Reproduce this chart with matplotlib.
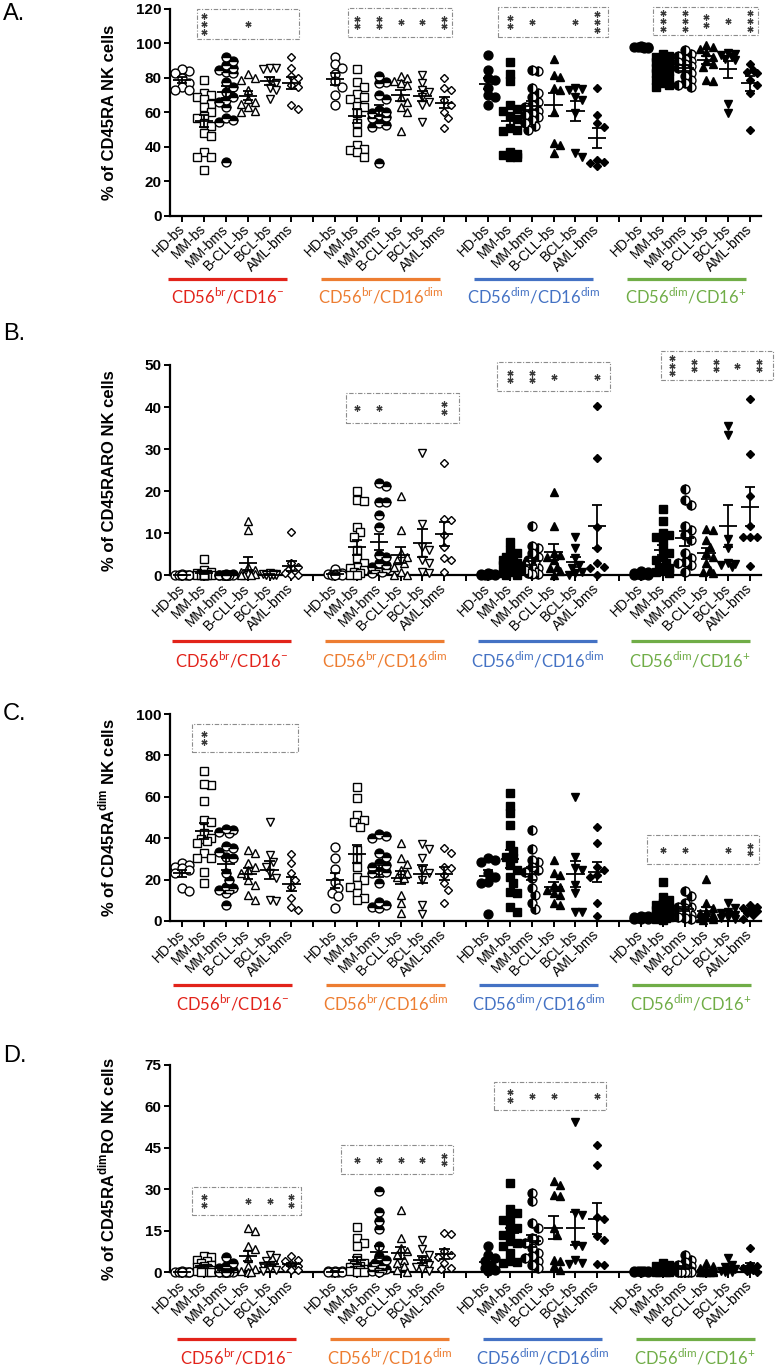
import numpy as np
import matplotlib
matplotlib.use('Agg')
import matplotlib.pyplot as plt
from matplotlib.transforms import blended_transform_factory
from matplotlib.patches import Rectangle

plt.rcParams['font.family'] = ['Liberation Sans', 'DejaVu Sans']

# categories and cell subsets
categories = ['HD-bs', 'MM-bs', 'MM-bms', 'B-CLL-bs', 'BCL-bs', 'AML-bms']
subsets = [r'CD56$^{\mathregular{br}}$/CD16$^{\mathregular{-}}$',
           r'CD56$^{\mathregular{br}}$/CD16$^{\mathregular{dim}}$',
           r'CD56$^{\mathregular{dim}}$/CD16$^{\mathregular{dim}}$',
           r'CD56$^{\mathregular{dim}}$/CD16$^{\mathregular{+}}$']
subset_colors = ['#E2231A', '#ED7D31', '#4472C4', '#70AD47']

# ---------------- panel A: % CD45RA ----------------
a_br_neg = [[84, 85, 83, 80, 77, 75, 73, 73],
            [79, 71, 70, 69, 68, 65, 63, 60, 58, 57, 54, 52, 48, 46, 37, 34, 34, 26.5],
            [92, 90, 87.5, 85.5, 84.5, 83.6, 82.6, 77.8, 75, 72, 69, 67, 66, 63, 56.5, 55.5, 54.5, 31],
            [82, 80, 79, 73, 68, 66, 65, 63, 61, 60],
            [86, 86, 85, 78, 77, 74, 73, 68],
            [92, 86, 81, 80, 76, 75, 64, 62]]
a_br_dim = [[92, 88, 86, 82, 78, 75, 70, 64],
            [85, 77.8, 75, 70.4, 69, 68, 63.7, 63.3, 59.4, 53.6, 48.8, 41, 39, 38, 37, 34.3],
            [81, 77.8, 77, 70, 68, 61.3, 60.4, 59.4, 58.4, 57.5, 56.5, 53.6, 52.6, 51.7, 30.4],
            [81, 80, 78, 77, 76, 69, 66, 63, 60, 49],
            [81.7, 77, 73, 72, 69, 66, 64, 54.6],
            [80, 74, 73, 67, 64, 60.4, 56.5, 50.7]]
a_dim_dim = [[93.3, 84.6, 79.7, 78.8, 74, 70, 69, 64.3],
             [89, 82, 78, 64, 62, 61, 58, 56, 51, 50, 49, 37, 36, 35, 34, 34],
             [84.6, 84, 74, 71, 69, 66, 64, 63, 61, 59.4, 58.4, 57.5, 55.5, 53.6, 52, 50],
             [90.8, 81.7, 80.3, 74, 73, 60.4, 42, 41, 36.2],
             [74, 73.4, 73, 69, 67, 59.4, 36.2, 34.3],
             [74, 58.4, 53.6, 51.7, 32.3, 31.4, 30.4, 29]]
a_dim_pos = [[98, 98, 97.5, 98.3, 97.8, 98.2, 97.6, 98],
             [94, 93, 92, 91, 90, 89, 88, 87, 86, 85, 84, 83, 82, 80, 79, 77, 76, 75],
             [96, 94, 93, 91, 90, 89, 88, 87, 86, 85, 83, 81, 79, 77, 76, 75],
             [99, 98, 97, 95, 92, 90, 88, 86.5, 78.8, 78],
             [94.6, 93.9, 93.3, 92.3, 91, 90.3, 65, 59.4],
             [88, 84.6, 83.6, 82.6, 78.8, 75.9, 71, 49.7]]

# ---------------- panel B: % CD45RARO ----------------
b_br_neg = [[0, 0, 0, 0, 0.2, 0.1, 0, 0],
            [3.9, 1.2, 0.8, 0.5, 0.3, 0.2, 0.1, 0, 0, 0, 0, 0, 0, 0, 0, 0],
            [0.3, 0.2, 0.1, 0.1, 0.1, 0, 0, 0, 0, 0, 0, 0, 0, 0, 0, 0],
            [13, 10.8, 2, 1.3, 0.8, 0.5, 0.3, 0.1, 0, 0],
            [0.5, 0.3, 0.2, 0.2, 0.1, 0, 0, 0],
            [10.2, 2.9, 2, 1.3, 0.9, 0.5, 0.1, 0]]
b_br_dim = [[1.5, 0.5, 0.3, 0.3, 0.2, 0.1, 0, 0],
            [20.1, 17.9, 17.7, 11.6, 10.2, 9.2, 6, 4, 2.9, 2, 1.7, 1.3, 0.9, 0.5, 0.1, 0],
            [21.9, 21.3, 17.4, 17.4, 14.3, 11.6, 4.8, 4.3, 2.9, 2.5, 2, 1.7, 1.4, 1.3, 0.9, 0.5],
            [18.9, 10.8, 5.2, 4.4, 3.6, 2.9, 2, 0.9, 0.1, 0],
            [29, 12.2, 6.8, 6, 3.6, 2.9, 0.9, 0.5],
            [26.6, 13.3, 13.2, 9.6, 6.8, 4, 3.6, 0.9]]
b_dim_dim = [[0.5, 0.4, 0.3, 0.2, 0.1, 0.1, 0, 0],
             [7.8, 6, 5.2, 4.4, 4, 3.6, 3.2, 2.9, 2.5, 2, 1.7, 1.3, 0.9, 0.5, 0.1, 0],
             [11.7, 7, 6.4, 5.2, 4.4, 3.6, 2.9, 2.5, 2, 1.7, 1.3, 0.9, 0.5, 0.3, 0.2],
             [19.7, 11.8, 5.2, 4.8, 4.4, 3.6, 2, 1.7, 1.1, 0.1],
             [9, 6.4, 4, 2.5, 1.7, 0.9, 0.5, 0.1],
             [40.3, 28, 11.6, 6.4, 2.9, 2, 1.7, 0.1]]
b_dim_pos = [[1.1, 0.8, 0.5, 0.3, 0.2, 0.1, 0, 0],
             [15.8, 13, 10, 9.6, 9.2, 8.4, 6.4, 5.2, 4.4, 3.6, 2.9, 2, 1.7, 1.3, 0.9, 0.5],
             [20.4, 17.9, 16.7, 11.7, 10.8, 9.6, 8.4, 5.2, 4, 3.2, 2.9, 2.5, 0.9],
             [10.9, 10.8, 8.4, 6.8, 5.2, 4.4, 2.9, 1.3, 0.9, 0.5],
             [35.5, 33.4, 8.6, 6.4, 2.9, 2.8, 2.5, 2],
             [41.8, 28.8, 18.9, 11.7, 9, 9, 9, 2.2]]

# ---------------- panel C: % CD45RA dim ----------------
c_br_neg = [[27.9, 27, 26.2, 25.4, 24.6, 23, 15.8, 14.5],
            [72.6, 65.7, 66.2, 58.1, 48.8, 48, 42.7, 40, 39.5, 38.8, 37.5, 32.7, 30.3, 30.3, 23.8, 18.2],
            [44, 44.3, 43.2, 42.4, 36, 35.1, 33.5, 31, 30.3, 23, 19.8, 16.6, 16, 15, 15, 13.4, 7.7],
            [34.3, 32.7, 27.9, 26.2, 24.6, 23, 19.8, 17.4, 12.6, 10.1],
            [48, 31.9, 28.7, 26.2, 23, 20.6, 10.1, 9.8],
            [32.4, 28.2, 23, 19.8, 16.6, 11, 7, 5.3]]
c_br_dim = [[35.6, 30.3, 25, 19, 16, 13.4, 12, 6.1],
            [64.9, 59.3, 51.2, 48.8, 48, 45.6, 34.3, 30.3, 26.2, 21.4, 19.8, 17.4, 16.6, 13.4, 11, 10.1],
            [42, 41, 40, 32.7, 31, 27.9, 27, 26.2, 24.6, 23.8, 23, 18.2, 9.3, 7.7, 6.9, 6.1],
            [37.8, 30.3, 27.5, 24.6, 23, 21.4, 20.6, 12.6, 8.5, 3.7],
            [37.2, 34.6, 30.3, 24.6, 23, 19.8, 7.7, 3.4],
            [35.1, 32.7, 26.2, 25.4, 22.2, 18.2, 15, 8.5]]
c_dim_dim = [[30.3, 29.5, 28.7, 23, 21.4, 19, 18.2, 3.2],
             [61.7, 55.7, 52, 46.4, 36.7, 33.8, 31, 30.3, 27, 24.6, 21.4, 18.2, 14.2, 13.4, 6.9, 4.5],
             [44, 34.6, 29.5, 28.7, 26.2, 24.6, 23.8, 20.6, 15.8, 12.6, 8.5, 5.6],
             [29.5, 23, 22.2, 17.4, 16.6, 15, 13.4, 12.6, 8.5, 7.7],
             [60, 31, 25.4, 24.6, 17.4, 13.4, 4.5, 4.5],
             [45.2, 37.5, 26.2, 24.6, 22.2, 21.4, 8.9, 2.4]]
c_dim_pos = [[2.5, 2.2, 2, 1.8, 1.5, 1.2, 1, 0.8],
             [18.7, 11.8, 10.1, 8.5, 7.7, 6.9, 6.1, 5.3, 4.5, 3.7, 2.9, 2.1, 2, 1.3, 0.8, 0.5],
             [14.6, 12, 8.5, 6.9, 6.9, 6.1, 5.3, 4.5, 3.7, 2.9, 2.1, 1.3, 0.8],
             [20.1, 8.5, 6.1, 4.5, 3.7, 2.9, 2.1, 1.3, 0.8, 0.5],
             [8.5, 6.1, 4.5, 3.7, 2.9, 2.1, 1.3, 0.8],
             [7.7, 6.9, 6.1, 5.6, 5, 3.7, 2.9, 0.8]]

# ---------------- panel D: % CD45RA dim RO ----------------
d_br_neg = [[0, 0, 0, 0.1, 0, 0.2, 0, 0],
            [5.7, 5.4, 4.5, 3.9, 3.3, 2.7, 2, 1.8, 1.4, 1.1, 0.8, 0.6, 0.4, 0.1, 0, 0],
            [5.4, 3.3, 2, 1.4, 0.8, 0.6, 0.2, 0.1, 0, 0, 0, 0, 0, 0, 0, 0],
            [16, 15, 9.5, 8.5, 5, 2, 1.2, 0.5, 0, 0],
            [6.3, 5.1, 3.9, 2.7, 2, 1.4, 0.8, 0.2],
            [5.7, 4.5, 3.9, 3, 2.3, 1.4, 0.8, 0.6]]
d_br_dim = [[0.5, 0.3, 0.2, 0.1, 0, 0, 0, 0],
            [16.3, 12.3, 10.5, 9.6, 5.1, 3.3, 2.7, 2, 1.8, 1.4, 1.1, 0.8, 0.6, 0.2, 0, 0],
            [29.5, 21.7, 18.6, 15.7, 9.3, 5.7, 4.5, 3.3, 2.7, 2, 1.4, 1.1, 0.8, 0.6, 0.2, 0],
            [22.5, 12.3, 8.7, 7.5, 6.3, 4.5, 3.3, 2, 0.8, 0],
            [11.7, 8.3, 6.3, 3.9, 2.7, 1.8, 1.1, 0.2],
            [14.1, 13.9, 7.5, 6.3, 5.4, 3.3, 1.4, 1.1]]
d_dim_dim = [[9.3, 6.3, 5.1, 3.9, 2.7, 1.4, 0.8, 0.2],
             [32.2, 22.8, 21.3, 19.9, 18.9, 17.1, 15.9, 14.1, 13.5, 11.1, 10.5, 9.3, 6.9, 3.9, 3.3, 3.5],
             [28.6, 25.6, 17.7, 15.9, 12.3, 11.7, 10.5, 8.7, 6.9, 5.7, 5.1, 3.9, 2.7, 1.4],
             [32.8, 31.6, 28, 27.4, 15.9, 13.5, 4.5, 3.9, 2, 0.6],
             [54.5, 21.3, 20.7, 9.9, 9.3, 4.5, 3.3, 3],
             [46.1, 38.6, 20.1, 19.2, 13.1, 11.7, 3, 2.7]]
d_dim_pos = [[0.4, 0.3, 0.3, 0.2, 0.2, 0.1, 0.1, 0],
             [3.3, 2.7, 2, 1.8, 1.4, 1.1, 0.8, 0.6, 0.5, 0.4, 0.3, 0.2, 0.1, 0, 0, 0],
             [6.3, 4.5, 3.5, 2.7, 2, 1.4, 0.8, 0.2, 0.1, 0, 0, 0, 0, 0],
             [3.3, 2.3, 1.4, 0.8, 0.2, 0, 0, 0, 0, 0],
             [5.1, 2.7, 1.8, 1.1, 0.6, 0.2, 0, 0],
             [8.7, 2.7, 2, 1.4, 1.1, 0.8, 0.2, 0]]

# significance stars per category (group index -> stars)
a_stars = {0: ['', '***', '', '*', '', ''], 1: ['', '**', '**', '*', '*', '**'],
           2: ['', '**', '*', '', '*', '***'], 3: ['', '***', '***', '**', '*', '***']}
b_stars = {1: ['', '*', '*', '', '', '**'], 2: ['', '**', '**', '*', '', '*'],
           3: ['', '***', '**', '**', '*', '**']}
c_stars = {0: ['', '**', '', '', '', ''], 3: ['', '*', '*', '', '*', '**']}
d_stars = {0: ['', '**', '', '*', '*', '**'], 1: ['', '*', '*', '*', '*', '**'],
           2: ['', '**', '*', '*', '', '*']}

# ---------------- layout ----------------
W, H = 776, 1369
fig = plt.figure(figsize=(W / 100, H / 100), dpi=100)

panels = [
    dict(data=[a_br_neg, a_br_dim, a_dim_dim, a_dim_pos], stars=a_stars, letter='A.',
         ylabel='% of CD45RA NK cells', ymax=120, ystep=20, top=9, bot=215.7,
         letter_y=14, line_y=279, lab_y=296, shift=0,
         boxes={0: (0.67, 5.35, 102.6, 120), 1: (7.59, 12.36, 103.8, 120.6),
                2: (14.46, 19.5, 103.8, 121.2), 3: (21.56, 26.37, 104.9, 121.2)},
         star_dx={}),
    dict(data=[b_br_neg, b_br_dim, b_dim_dim, b_dim_pos], stars=b_stars, letter='B.',
         ylabel='% of CD45RARO NK cells', ymax=50, ystep=10, top=365, bot=575.3,
         letter_y=334, line_y=641, lab_y=660, shift=4,
         boxes={1: (7.5, 12.68, 36.2, 43.3), 2: (14.4, 19.59, 43.8, 50.7),
                3: (21.9, 27.06, 46.4, 53.3)},
         star_dx={3: 0.42}),
    dict(data=[c_br_neg, c_br_dim, c_dim_dim, c_dim_pos], stars=c_stars, letter='C.',
         ylabel=r'% of CD45RA$^{\mathregular{dim}}$ NK cells', ymax=100, ystep=20,
         top=714, bot=921, letter_y=714, line_y=985, lab_y=1003, shift=5,
         boxes={0: (0.45, 5.3, 81.6, 95.2), 3: (21.3, 26.4, 27.5, 41.5)},
         star_dx={}),
    dict(data=[d_br_neg, d_br_dim, d_dim_dim, d_dim_pos], stars=d_stars, letter='D.',
         ylabel=r'% of CD45RA$^{\mathregular{dim}}$RO NK cells', ymax=75, ystep=15,
         top=1065, bot=1272, letter_y=1056, line_y=1339, lab_y=1357, shift=9,
         boxes={0: (0.45, 5.44, 20.6, 30.8), 1: (7.27, 12.4, 35.5, 46),
                2: (14.28, 19.4, 58.7, 68.8)},
         star_dx={}),
]

AX_L, AX_R = 170, 761
XMIN, XMAX = -0.56, 26.5
markers = ['o', 's', 'o', '^', 'v', 'D']
msizes = [6.4, 5.6, 6.4, 6.4, 6.4, 4.4]


def swarm_offsets(vals, ppx, ppy, diam=7.5, maxoff=0.4):
    vals = np.asarray(vals, float)
    order = np.argsort(-vals, kind='stable')
    step = diam * 0.45
    nmax = int(maxoff * ppx / step)
    cands = [0.0]
    for k in range(1, nmax + 1):
        cands += [k * step, -k * step]
    placed = []
    offs = np.zeros(len(vals))
    for i in order:
        y = vals[i] * ppy
        best, bestd = 0.0, -1.0
        for c in cands:
            d = min([np.hypot(c - px, y - py) for px, py in placed], default=1e9)
            if d >= diam * 0.9:
                best = c
                break
            if d > bestd:
                best, bestd = c, d
        placed.append((best, y))
        offs[i] = best / ppx
    return offs


for p in panels:
    ax = fig.add_axes([AX_L / W, 1 - p['bot'] / H, (AX_R - AX_L) / W, (p['bot'] - p['top']) / H])
    ppx = (AX_R - AX_L) / (XMAX - XMIN)
    ppy = (p['bot'] - p['top']) / p['ymax']

    for g, group in enumerate(p['data']):
        filled = g >= 2
        for i, vals in enumerate(group):
            xc = g * 7 + i
            xs = xc + swarm_offsets(vals, ppx, ppy)
            kw = dict(linestyle='none', marker=markers[i], ms=msizes[i], mew=1.0,
                      mec='black', clip_on=False, zorder=3)
            if i == 2:
                kw.update(mfc='black', mfcalt='white', fillstyle='left' if filled else 'top')
            else:
                kw.update(mfc='black' if filled else 'white')
            ax.plot(xs, vals, **kw)
            v = np.asarray(vals, float)
            m = v.mean()
            s = v.std(ddof=1) / np.sqrt(len(v))
            lk = dict(color='black', lw=1.3, zorder=4, clip_on=False, solid_capstyle='butt')
            ax.plot([xc - 0.42, xc + 0.42], [m, m], **lk)
            ax.plot([xc, xc], [m - s, m + s], **lk)
            ax.plot([xc - 0.24, xc + 0.24], [m - s, m - s], **lk)
            ax.plot([xc - 0.24, xc + 0.24], [m + s, m + s], **lk)

    # significance boxes
    for g, (x0, x1, y0, y1) in p['boxes'].items():
        ax.add_patch(Rectangle((x0, y0), x1 - x0, y1 - y0, fill=False, ls=(0, (4, 1.5, 1, 1.5)),
                               lw=0.8, ec='#8c8c8c', clip_on=False, zorder=2))
        yc = (y0 + y1) / 2
        sp = 7.6 / ppy
        for i, st in enumerate(p['stars'][g]):
            n = len(st)
            for k in range(n):
                ax.plot(g * 7 + i + p['star_dx'].get(g, 0), yc + ((n - 1) / 2 - k) * sp,
                        marker=(6, 2, 0), ms=4.4, mew=0.9, color='#3a3a3a',
                        linestyle='none', clip_on=False, zorder=3)

    ax.set_xlim(XMIN, XMAX)
    ax.set_ylim(0, p['ymax'])
    ax.set_yticks(np.arange(0, p['ymax'] + 1, p['ystep']))
    ax.set_xticks(range(27))
    labels = []
    for g in range(4):
        labels += categories + ([''] if g < 3 else [])
    ax.set_xticklabels(labels, rotation=45, ha='right', va='center',
                       rotation_mode='anchor', fontsize=10)
    for lab in ax.get_yticklabels():
        lab.set_fontweight('bold')
        lab.set_fontsize(11)
    ax.tick_params(axis='both', direction='out', length=4, width=1.4, color='black')
    ax.tick_params(axis='x', pad=4)
    ax.tick_params(axis='y', pad=2)
    for sname in ['top', 'right']:
        ax.spines[sname].set_visible(False)
    for sname in ['left', 'bottom']:
        ax.spines[sname].set_linewidth(1.6)
    ax.set_ylabel(p['ylabel'], fontsize=12, fontweight='bold')
    ax.yaxis.set_label_coords((117 - AX_L) / (AX_R - AX_L), 0.5)

    # subset underlines and labels
    tr = blended_transform_factory(ax.transData, fig.transFigure)
    shift = p['shift'] / ppx
    for g in range(4):
        x0 = g * 7 - 0.65 + shift
        x1 = x0 + 5.45
        ax.plot([x0, x1], [1 - p['line_y'] / H] * 2, transform=tr, color=subset_colors[g],
                lw=2.3, clip_on=False, solid_capstyle='butt')
        ax.text((x0 + x1) / 2, 1 - p['lab_y'] / H, subsets[g], transform=tr,
                color=subset_colors[g], fontsize=12, family=['Lato', 'DejaVu Sans'],
                ha='center', va='center')

    fig.text(3 / W, 1 - p['letter_y'] / H, p['letter'], fontsize=17, ha='left', va='center')

fig.savefig('out.png', dpi=100)
